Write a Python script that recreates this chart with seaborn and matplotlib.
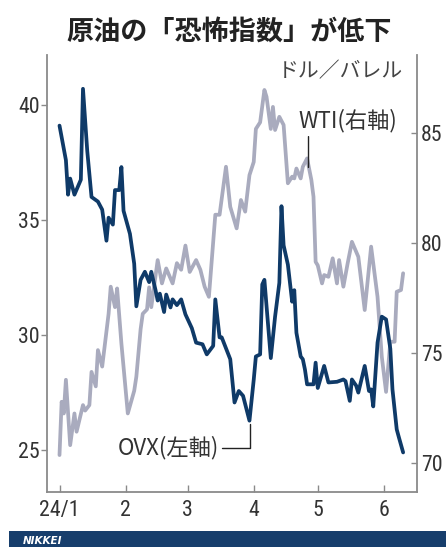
import matplotlib
matplotlib.use("Agg")
import matplotlib.pyplot as plt
import matplotlib.dates as mdates
from matplotlib.patches import Rectangle
from matplotlib import font_manager as fm
import pandas as pd
import seaborn as sns

# ---------------- data ----------------
ovx_dates = ["2024-01-01", "2024-01-04", "2024-01-05", "2024-01-06", "2024-01-08", "2024-01-11",
             "2024-01-12", "2024-01-14", "2024-01-16", "2024-01-19", "2024-01-21", "2024-01-23",
             "2024-01-24", "2024-01-26", "2024-01-27", "2024-01-29", "2024-01-30", "2024-01-31",
             "2024-02-03", "2024-02-05", "2024-02-06", "2024-02-08", "2024-02-10", "2024-02-12",
             "2024-02-13", "2024-02-15", "2024-02-16", "2024-02-17", "2024-02-19", "2024-02-20",
             "2024-02-22", "2024-02-23", "2024-02-25", "2024-02-27", "2024-02-29",
             "2024-03-03", "2024-03-05", "2024-03-08", "2024-03-10", "2024-03-13", "2024-03-14",
             "2024-03-16", "2024-03-17", "2024-03-21", "2024-03-23", "2024-03-25", "2024-03-27",
             "2024-03-30",
             "2024-04-01", "2024-04-02", "2024-04-04", "2024-04-05", "2024-04-06", "2024-04-07",
             "2024-04-09", "2024-04-11", "2024-04-13", "2024-04-14", "2024-04-15", "2024-04-17",
             "2024-04-19", "2024-04-20", "2024-04-21", "2024-04-23", "2024-04-24", "2024-04-25",
             "2024-04-26", "2024-04-29", "2024-04-30",
             "2024-05-01", "2024-05-04", "2024-05-06", "2024-05-10", "2024-05-13", "2024-05-14",
             "2024-05-16", "2024-05-17", "2024-05-19", "2024-05-20", "2024-05-23", "2024-05-25",
             "2024-05-26", "2024-05-27", "2024-05-29", "2024-05-31",
             "2024-06-02", "2024-06-04", "2024-06-05", "2024-06-07", "2024-06-08", "2024-06-10"]
ovx_values = [39.1, 37.6, 36.1, 36.8, 36.1, 36.75, 40.7, 38.0, 36.0, 35.8, 35.45, 34.1,
              35.1, 34.8, 36.3, 36.3, 37.3, 35.4,
              34.4, 33.1, 31.25, 32.4, 32.75, 32.3, 32.75, 31.95, 31.5, 31.8, 31.0, 31.76,
              31.2, 31.55, 31.3, 31.55, 30.9,
              30.3, 29.67, 29.6, 29.16, 29.53, 31.55, 29.9, 29.9, 28.95, 27.07, 27.57, 27.36,
              26.28,
              28.06, 29.07, 29.16, 32.2, 32.4, 31.26, 29.0, 30.8, 32.27, 35.6, 33.9, 33.06,
              31.45, 31.95, 30.1, 29.07, 28.95, 28.5, 27.86, 27.86, 28.8,
              27.7, 28.66, 27.94, 27.97, 28.07, 28.0, 27.14, 28.07, 27.8, 27.5, 28.66, 27.57,
              27.64, 26.9, 29.67, 30.8,
              30.68, 29.4, 27.64, 25.9, 25.56, 24.9]

wti_dates = ["2024-01-01", "2024-01-02", "2024-01-03", "2024-01-04", "2024-01-06", "2024-01-08",
             "2024-01-09", "2024-01-12", "2024-01-13", "2024-01-15", "2024-01-16", "2024-01-18",
             "2024-01-19", "2024-01-21", "2024-01-24", "2024-01-25", "2024-01-27", "2024-01-28",
             "2024-01-30",
             "2024-02-02", "2024-02-05", "2024-02-06", "2024-02-08", "2024-02-09", "2024-02-11",
             "2024-02-12", "2024-02-13", "2024-02-16", "2024-02-18", "2024-02-20", "2024-02-23",
             "2024-02-25", "2024-02-27", "2024-02-29",
             "2024-03-02", "2024-03-05", "2024-03-07", "2024-03-09", "2024-03-11", "2024-03-14",
             "2024-03-16", "2024-03-19", "2024-03-21", "2024-03-24", "2024-03-26", "2024-03-28",
             "2024-03-30",
             "2024-04-01", "2024-04-02", "2024-04-04", "2024-04-06", "2024-04-07", "2024-04-09",
             "2024-04-10", "2024-04-11", "2024-04-13", "2024-04-15", "2024-04-17", "2024-04-19",
             "2024-04-20", "2024-04-21", "2024-04-23", "2024-04-24", "2024-04-26", "2024-04-28",
             "2024-04-29", "2024-04-30",
             "2024-05-01", "2024-05-03", "2024-05-04", "2024-05-06", "2024-05-08", "2024-05-10",
             "2024-05-11", "2024-05-13", "2024-05-15", "2024-05-17", "2024-05-20", "2024-05-23",
             "2024-05-26", "2024-05-27", "2024-05-29", "2024-05-31",
             "2024-06-02", "2024-06-04", "2024-06-06", "2024-06-07", "2024-06-09", "2024-06-10"]
wti_values = [70.38, 72.8, 72.27, 73.8, 70.83, 72.27, 71.44, 72.65, 72.4, 72.65, 74.16, 73.5,
              75.15, 74.4, 76.8, 78.03, 77.1, 77.95, 75.45,
              72.27, 73.3, 73.94, 76.1, 76.8, 77.0, 78.0, 77.1, 79.24, 78.18, 78.86, 78.18,
              79.1, 78.8, 79.9,
              78.7, 79.24, 78.8, 78.03, 77.57, 81.3, 81.3, 83.48, 81.66, 80.68, 81.97, 81.44,
              83.1,
              83.7, 85.2, 85.5, 86.97, 86.66, 85.2, 86.2, 85.15, 85.75, 85.38, 82.73, 83.03,
              82.95, 83.4, 82.95, 83.48, 83.86, 82.88, 82.12, 79.16,
              79.0, 78.18, 78.56, 78.48, 79.32, 78.18, 79.24, 78.03, 79.09, 80.07, 79.39, 76.97,
              79.85, 79.09, 77.57, 74.85,
              73.25, 75.53, 75.53, 77.8, 77.88, 78.64]

month_ticks = ["2024-01-01", "2024-02-01", "2024-03-01", "2024-04-01", "2024-05-01", "2024-06-01"]
month_labels = ["24/1", "2", "3", "4", "5", "6"]
left_ticks = [25, 30, 35, 40]
right_ticks = [70, 75, 80, 85]

title = "原油の「恐怖指数」が低下"
unit_label = "ドル／バレル"
wti_label = "WTI(右軸)"
ovx_label = "OVX(左軸)"

# ---------------- style ----------------
sns.set_theme(style="white")
plt.rcParams["font.family"] = ["Noto Sans CJK JP", "DejaVu Sans"]


def find_narrow_font():
    prefs = ["Liberation Sans Narrow", "Roboto Condensed", "Open Sans Condensed",
             "Noto Sans Condensed", "DejaVu Sans Condensed"]
    cands = []
    for f in fm.fontManager.ttflist:
        name = f.name
        fname = f.fname.lower()
        is_narrow = ("narrow" in name.lower() or "condensed" in name.lower()
                     or "narrow" in fname or "condensed" in fname
                     or f.stretch in ("condensed", "semi-condensed", "extra-condensed"))
        if not is_narrow or f.style != "normal":
            continue
        w = f.weight if isinstance(f.weight, int) else 400
        if w != 400:
            continue
        cands.append(f)

    def rank(f):
        for i, p in enumerate(prefs):
            if p.lower().replace(" ", "") in (f.name + f.fname).lower().replace(" ", ""):
                return i
        return len(prefs)
    cands.sort(key=rank)
    return cands[0].fname if cands else None


NAVY = "#0f3a68"
LAV = "#a9abbe"
SPINE = "#8a8a8a"
TXT = "#333333"

fig = plt.figure(figsize=(4.46, 5.47), dpi=100)
fig.patch.set_facecolor("white")
ax = fig.add_axes([0.1047, 0.1005, 0.935 - 0.1047, 0.7990])
ax2 = ax.twinx()

ovx = pd.DataFrame({"date": pd.to_datetime(ovx_dates), "value": ovx_values})
wti = pd.DataFrame({"date": pd.to_datetime(wti_dates), "value": wti_values})

sns.lineplot(data=wti, x="date", y="value", ax=ax2, color=LAV, linewidth=2.7)
sns.lineplot(data=ovx, x="date", y="value", ax=ax, color=NAVY, linewidth=2.7)

ax.set_zorder(ax2.get_zorder() + 1)
ax.patch.set_visible(False)

ax.set_xlim(pd.Timestamp("2023-12-26"), pd.Timestamp("2024-06-16 12:00"))
ax.set_ylim(23.18, 42.17)
ax2.set_ylim(68.7, 88.56)

for a in (ax, ax2):
    a.set_xlabel("")
    a.set_ylabel("")

ax.set_xticks(pd.to_datetime(month_ticks))
ax.set_xticklabels(month_labels)
ax.set_yticks(left_ticks)
ax.set_yticklabels([str(v) for v in left_ticks])
ax2.set_yticks(right_ticks)
ax2.set_yticklabels([str(v) for v in right_ticks])

for a in (ax, ax2):
    a.grid(False)
    for s in a.spines.values():
        s.set_visible(False)
ax.spines["left"].set_visible(True)
ax.spines["bottom"].set_visible(True)
ax2.spines["right"].set_visible(True)
for s in (ax.spines["left"], ax.spines["bottom"], ax2.spines["right"]):
    s.set_color(SPINE)
    s.set_linewidth(1.3)

# tick label font: a narrow sans if available, sized so "24/1" is about 40 px wide
narrow_path = find_narrow_font()
if narrow_path:
    tick_fp = fm.FontProperties(fname=narrow_path, size=17)
else:
    tick_fp = fm.FontProperties(family="Noto Sans CJK JP", size=17)
renderer = fig.canvas.get_renderer()
probe = fig.text(0, 0, "24/1", fontproperties=tick_fp)
w = probe.get_window_extent(renderer).width
probe.remove()
tick_size = min(17.0, 17.0 * 40.5 / max(w, 1))
tick_fp.set_size(tick_size)

ax.tick_params(axis="y", left=True, direction="out", length=4, width=1, color=SPINE,
               labelcolor=TXT, pad=1)
ax.tick_params(axis="x", bottom=True, direction="in", length=5, width=1, color=SPINE,
               labelcolor=TXT, pad=6)
ax2.tick_params(axis="y", right=True, direction="in", length=4, width=1, color=SPINE,
                labelcolor=TXT, pad=3)
for lab in ax.get_xticklabels() + ax.get_yticklabels() + ax2.get_yticklabels():
    lab.set_fontproperties(tick_fp)

# ---------------- annotations ----------------
d2n = lambda s: mdates.date2num(pd.Timestamp(s))

ax2.text(d2n("2024-05-15"), 85.6, wti_label, ha="center", va="center",
         fontsize=16, color=TXT)
ax2.annotate("", xy=(d2n("2024-04-26 16:00"), 83.45), xytext=(d2n("2024-04-26 16:00"), 84.85),
             arrowprops=dict(arrowstyle="-", color="#222222", lw=1.0, shrinkA=0, shrinkB=0))

ax.annotate(ovx_label, xy=(d2n("2024-03-30 04:00"), 26.15),
            xytext=(d2n("2024-03-15 16:00"), 25.1), ha="right", va="center",
            fontsize=16, color=TXT,
            arrowprops=dict(arrowstyle="-", color="#222222", lw=1.0, shrinkA=0, shrinkB=0,
                            connectionstyle="angle,angleA=0,angleB=90,rad=0"))

fig.text(0.513, 0.9415, title, ha="center", va="center", fontsize=19.5,
         fontweight="bold", color="#222222", family=["Noto Sans CJK JP"])
fig.text(0.9036, 0.869, unit_label, ha="right", va="center", fontsize=15,
         color="#444444", family=["Noto Sans CJK JP"])

# footer bar
fig.patches.append(Rectangle((9 / 446, 0), 1 - 9 / 446, 16.3 / 547, transform=fig.transFigure,
                             facecolor="#173e6c", edgecolor="none", zorder=0))
fig.text(23 / 446, 6.5 / 547, "NIKKEI", ha="left", va="center", fontsize=7.5,
         fontweight="bold", fontstyle="italic", color="white", family=["DejaVu Sans"])

fig.savefig("out.png", dpi=100, facecolor="white")
